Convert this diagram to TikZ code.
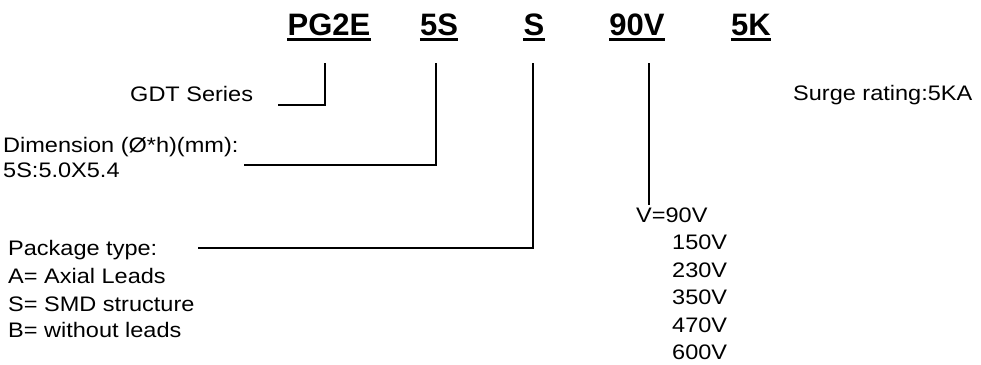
\documentclass[tikz,border=0pt]{standalone}
\usepackage{fontspec}
\setmainfont{Liberation Sans}
\newfontfamily\labelfont{Liberation Sans}[FakeStretch=1.12]
\begin{document}
\begin{tikzpicture}[x=1pt,y=-1pt,%
% common options for the part code:
code/.style = {font=\bfseries\fontsize{31}{36}\selectfont, anchor=base, inner sep=0},
% common options for the explanations:
expl/.style = {font=\labelfont\fontsize{21}{27}\selectfont, anchor=base west, inner sep=0},
uline/.style = {line width=3pt},
link/.style = {line width=1.3pt}]
\useasboundingbox (0,0) rectangle (981,364);
\node[code] (pg) at (329,35) {PG2E};
\node[code] (dim) at (439,35) {5S};
\node[code] (pkg) at (534,35) {S};
\node[code] (volt) at (637,35) {90V};
\node[code] (surge) at (751,35) {5K};
\foreach \c in {pg,dim,pkg,volt,surge}
  \draw[uline] ([yshift=-4.5pt]\c.base west) -- ([yshift=-4.5pt]\c.base east);
\node[expl] (gdt) at (130,101) {GDT Series};
\node[expl] (dim1) at (3,152) {Dimension (Ø*h)(mm):};
\node[expl] (dim2) at (3,177) {5S:5.0X5.4};
\node[expl] (pkg0) at (8,255) {Package type:};
\node[expl] (pkg1) at (8,283) {A= Axial Leads};
\node[expl] (pkg2) at (8,311) {S= SMD structure};
\node[expl] (pkg3) at (8,337) {B= without leads};
\node[expl] (v0) at (636,222) {V=90V};
\node[expl] (v1) at (672,249) {150V};
\node[expl] (v2) at (672,277) {230V};
\node[expl] (v3) at (672,304) {350V};
\node[expl] (v4) at (672,332) {470V};
\node[expl] (v5) at (672,359) {600V};
\node[expl] (kA) at (793,100) {Surge rating:5KA};
% ends of the leader lines
\coordinate (pg-top) at (325,63);
\coordinate (gdt-end) at (278,105);
\coordinate (dim-top) at (436,63);
\coordinate (dim-end) at (244,165);
\coordinate (pkg-top) at (533,63);
\coordinate (pkg-end) at (198,248);
\coordinate (volt-top) at (649,63);
\coordinate (volt-end) at (649,205);
\draw[link] (pg-top) |- (gdt-end);
\draw[link] (dim-top) |- (dim-end);
\draw[link] (pkg-top) |- (pkg-end);
\draw[link] (volt-top) -- (volt-end);
\end{tikzpicture}
\end{document}
